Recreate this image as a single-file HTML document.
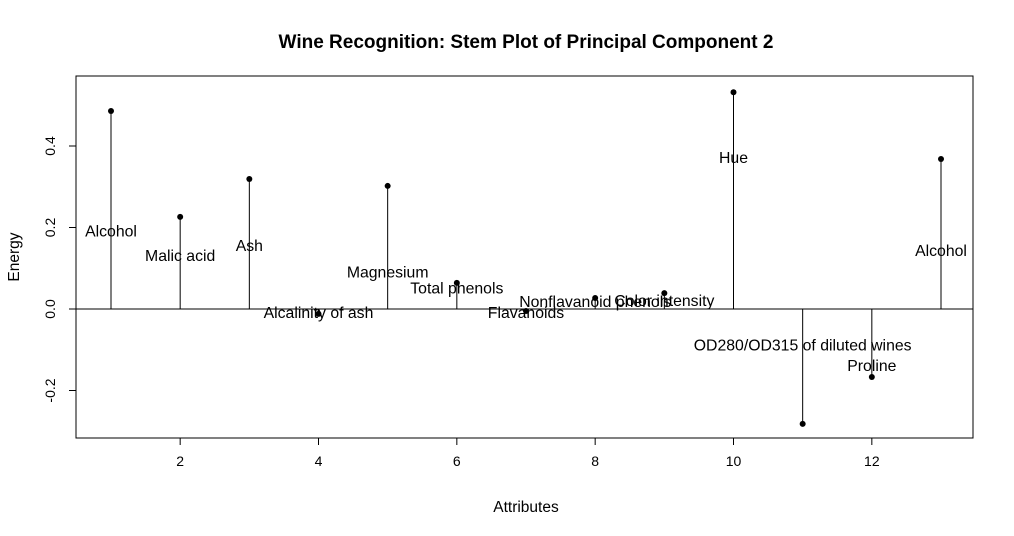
<!DOCTYPE html>
<html><head><meta charset="utf-8"><style>
body{margin:0;background:#fff;}
svg{display:block;font-family:"Liberation Sans",Arial,sans-serif;}
</style></head><body>
<svg id="c" width="1014" height="536"></svg>
<script>
const categories=[1,2,3,4,5,6,7,8,9,10,11,12,13];
const values=[0.486,0.226,0.319,-0.012,0.302,0.064,-0.005,0.027,0.039,0.532,-0.282,-0.167,0.368];
const labels=["Alcohol","Malic acid","Ash","Alcalinity of ash","Magnesium","Total phenols","Flavanoids","Nonflavanoid phenols","Color intensity","Hue","OD280/OD315 of diluted wines","Proline","Alcohol"];
const labelY=[0.19,0.13,0.155,-0.01,0.09,0.05,-0.01,0.017,0.02,0.37,-0.09,-0.14,0.142];
const xTicks=[2,4,6,8,10,12];
const yTicks=[-0.2,0.0,0.2,0.4];
const yTickLabels=["-0.2","0.0","0.2","0.4"];
const NS="http://www.w3.org/2000/svg";
const svg=document.getElementById('c');
const X=v=>111+(v-1)*(830/12);
const Y=v=>309-v*407.5;
function el(t,a,txt){const e=document.createElementNS(NS,t);for(const k in a)e.setAttribute(k,a[k]);if(txt!=null)e.textContent=txt;svg.appendChild(e);return e;}
let e;
e=el('text',{x:526,y:48,'text-anchor':'middle','font-size':19,'font-weight':'bold'},'Wine Recognition: Stem Plot of Principal Component 2');

e=el('rect',{x:76,y:76,width:897,height:362,fill:'none',stroke:'#000'});

e=el('line',{x1:76,x2:973,y1:Y(0),y2:Y(0),stroke:'#000'});

xTicks.forEach(t=>{
  e=el('line',{x1:X(t),x2:X(t),y1:438,y2:445,stroke:'#000'});
  
  e=el('text',{x:X(t),y:466,'text-anchor':'middle','font-size':14},t);
  
});
yTicks.forEach((t,i)=>{
  e=el('line',{x1:69,x2:76,y1:Y(t),y2:Y(t),stroke:'#000'});
  
  e=el('text',{x:55,y:Y(t),'text-anchor':'middle','font-size':14,transform:`rotate(-90 55 ${Y(t)})`},yTickLabels[i]);
  
});
e=el('text',{x:526,y:512,'text-anchor':'middle','font-size':15.5},'Attributes');

e=el('text',{x:19,y:257,'text-anchor':'middle','font-size':15.5,transform:'rotate(-90 19 257)'},'Energy');

categories.forEach((c,i)=>{
  e=el('line',{x1:X(c),x2:X(c),y1:Y(0),y2:Y(values[i]),stroke:'#000'});
  
  e=el('circle',{cx:X(c),cy:Y(values[i]),r:3,fill:'#000'});
  
  e=el('text',{x:X(c),y:Y(labelY[i])+5,'text-anchor':'middle','font-size':15.8},labels[i]);
  
});
</script>
</body></html>
